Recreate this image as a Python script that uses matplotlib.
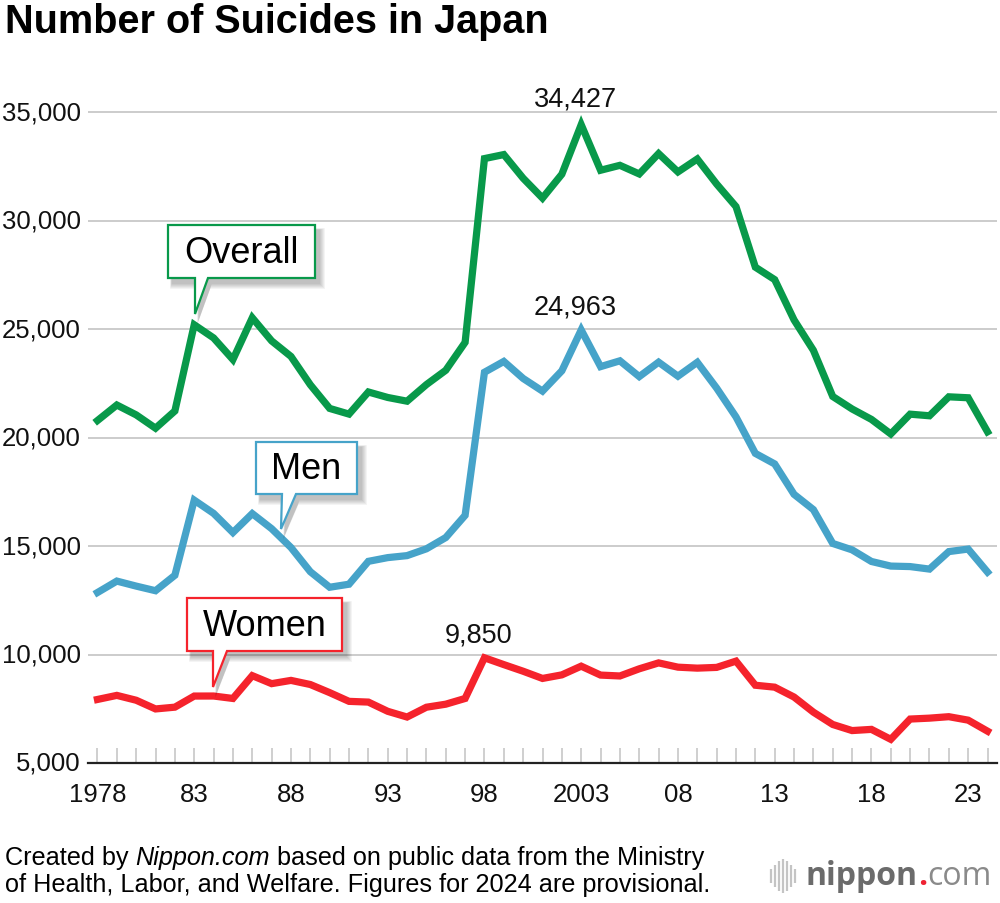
import matplotlib
matplotlib.use("Agg")
import matplotlib.pyplot as plt
from matplotlib.patches import Polygon

plt.rcParams['font.family'] = ['Liberation Sans', 'DejaVu Sans']

years = list(range(1978, 2025))
overall = [20788, 21503, 21048, 20434, 21228, 25202, 24596, 23599, 25524, 24460,
           23742, 22436, 21346, 21084, 22104, 21851, 21679, 22445, 23104, 24391,
           32863, 33048, 31957, 31042, 32143, 34427, 32325, 32552, 32155, 33093,
           32249, 32845, 31690, 30651, 27858, 27283, 25427, 24025, 21897, 21321,
           20840, 20169, 21081, 21007, 21881, 21837, 20268]
men = [12859, 13386, 13155, 12942, 13654, 17116, 16508, 15624, 16497, 15802,
       14934, 13818, 13102, 13242, 14296, 14468, 14560, 14874, 15393, 16416,
       23013, 23512, 22727, 22144, 23080, 24963, 23272, 23540, 22813, 23478,
       22831, 23472, 22283, 20955, 19273, 18787, 17386, 16681, 15121, 14826,
       14290, 14078, 14055, 13939, 14746, 14862, 13801]
women = [7929, 8117, 7893, 7492, 7574, 8086, 8088, 7975, 9027, 8658,
         8808, 8618, 8244, 7842, 7808, 7383, 7119, 7571, 7711, 7975,
         9850, 9536, 9230, 8898, 9063, 9464, 9053, 9012, 9342, 9615,
         9418, 9373, 9407, 9696, 8585, 8496, 8041, 7344, 6776, 6495,
         6550, 6091, 7026, 7068, 7135, 6975, 6467]
xtick_years = [1978, 1983, 1988, 1993, 1998, 2003, 2008, 2013, 2018, 2023]
xtick_labels = ["1978", "83", "88", "93", "98", "2003", "08", "13", "18", "23"]
yticks = [5000, 10000, 15000, 20000, 25000, 30000, 35000]
ytick_labels = ["5,000", "10,000", "15,000", "20,000", "25,000", "30,000", "35,000"]

GREEN = "#08994a"
BLUE = "#46a3c9"
RED = "#f5232c"

W, H = 1000, 904
fig = plt.figure(figsize=(W / 100, H / 100), dpi=100)
ax = fig.add_axes([88 / W, 1 - 764 / H, (997 - 88) / W, (764 - 59) / H])
ax.set_xlim(1977.51, 2024.49)
ax.set_ylim(5000, 37500)

for s in ['top', 'right', 'left']:
    ax.spines[s].set_visible(False)
ax.spines['bottom'].set_color('#222222')
ax.spines['bottom'].set_linewidth(1.6)
ax.spines['bottom'].set_zorder(5)

ax.set_yticks(yticks[1:])
ax.set_yticklabels([])
ax.grid(axis='y', color='#c8c8c8', linewidth=1.3)
ax.set_axisbelow(True)
ax.tick_params(axis='y', length=0)
for v, lab in zip(yticks, ytick_labels):
    ax.text(-0.008, v, lab, transform=ax.get_yaxis_transform(), ha='right', va='center',
            fontsize=18.5, color='#111111')

ax.set_xticks(xtick_years)
ax.set_xticklabels(xtick_labels, fontsize=18.5, color='#111111')
ax.set_xticks(years, minor=True)
ax.tick_params(axis='x', which='both', direction='in', length=11, width=1.3,
               color='#cccccc', pad=14)

ax.plot(years, overall, color=GREEN, lw=5.2, solid_joinstyle='miter', zorder=3)
ax.plot(years, men, color=BLUE, lw=5.2, solid_joinstyle='miter', zorder=3)
ax.plot(years, women, color=RED, lw=5.2, solid_joinstyle='miter', zorder=3)

def peak_label(series, dy):
    i = series.index(max(series))
    ax.annotate(f"{series[i]:,}", (years[i], series[i]), xytext=(-4, dy),
                textcoords='offset points', ha='center', va='baseline',
                fontsize=19.5, color='#111111')

peak_label(overall, 13.5)
peak_label(men, 11.5)
peak_label(women, 12)

# overlay in pixel coords
ov = fig.add_axes([0, 0, 1, 1], zorder=10)
ov.set_xlim(0, W)
ov.set_ylim(H, 0)
ov.axis('off')
ov.patch.set_alpha(0)

def callout(x0, y0, x1, y1, pl, pr, tip, text, color):
    pts = [(x0, y0), (x1, y0), (x1, y1), (pr, y1), tip, (pl, y1), (x0, y1)]
    for k in range(6, 0, -1):
        sh = [(px + 4 + (k if px > (x0 + x1) / 2 else -k * 0.3),
               py + 5 + (k if py > (y0 + y1) / 2 else -k * 0.3)) for px, py in pts]
        ov.add_patch(Polygon(sh, closed=True, facecolor='black', edgecolor='none',
                             alpha=0.045))
    ov.add_patch(Polygon(pts, closed=True, facecolor='white', edgecolor=color,
                         linewidth=1.6, joinstyle='miter'))
    ov.text((x0 + x1) / 2, (y0 + y1) / 2 + 1, text, ha='center', va='center',
            fontsize=26, color='black')

callout(168, 226, 315, 279, 195, 208, (195, 315), "Overall", GREEN)
callout(256, 443, 357, 495, 282, 296, (281, 530), "Men", BLUE)
callout(187, 599, 342, 652, 213, 227, (213, 688), "Women", RED)

# title
fig.text(5 / W, 1 - 22 / H, "Number of Suicides in Japan", ha='left', va='center',
         fontsize=28.5, fontweight='bold', color='black')

# footer
fig.canvas.draw()
r = fig.canvas.get_renderer()

def seq(parts, x, y, **kw):
    for txt, extra in parts:
        args = dict(kw)
        args.update(extra)
        t = ov.text(x, y, txt, ha='left', va='baseline', **args)
        bb = t.get_window_extent(r)
        x += bb.width
    return x

fs = 18.2
seq([("Created by ", {}), ("Nippon.com", {'style': 'italic'}),
     (" based on public data from the Ministry", {})], 5, 865, fontsize=fs, color='black')
seq([("of Health, Labor, and Welfare. Figures for 2024 are provisional.", {})], 5, 892,
    fontsize=fs, color='black')

# logo
bars = [(771, 7), (775, 11), (779, 15), (783, 17), (787, 15), (791, 11), (795, 7)]
for bx, bh in bars:
    ov.plot([bx, bx], [877 - bh, 877 + bh], color='#c4c4c4', lw=1.6,
            solid_capstyle='butt')
seq([("nippon", {'fontweight': 'bold', 'color': '#6b6b6b'}),
     (".", {'fontweight': 'bold', 'color': '#ee2233'}),
     ("com", {'color': '#8a8a8a'})], 806, 885, fontsize=23,
    family=['Open Sans', 'DejaVu Sans'])

fig.savefig("out.png", dpi=100)
